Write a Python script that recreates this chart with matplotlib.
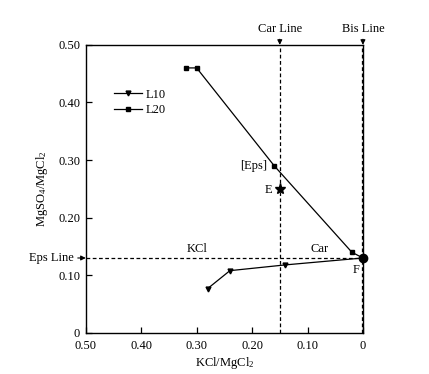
import numpy as np
import matplotlib.pyplot as plt

plt.rcParams['font.family'] = ['Liberation Serif', 'DejaVu Serif']
plt.rcParams['mathtext.fontset'] = 'custom'
plt.rcParams['mathtext.rm'] = 'Liberation Serif'
plt.rcParams['mathtext.it'] = 'Liberation Serif:italic'
plt.rcParams['font.size'] = 9

# data
l10_x = [0.28, 0.24, 0.14, 0.0]
l10_y = [0.077, 0.108, 0.118, 0.13]
l20_x = [0.32, 0.30, 0.16, 0.02, 0.0]
l20_y = [0.46, 0.46, 0.29, 0.14, 0.13]
point_e = (0.15, 0.25)
point_f = (0.0, 0.13)
car_line = 0.15
bis_line = 0.0
eps_line = 0.13

xticks = [0.5, 0.4, 0.3, 0.2, 0.1, 0.0]
xtick_labels = ['0.50', '0.40', '0.30', '0.20', '0.10', '0']
yticks = [0.0, 0.1, 0.2, 0.3, 0.4, 0.5]
ytick_labels = ['0', '0.10', '0.20', '0.30', '0.40', '0.50']

fig = plt.figure(figsize=(4.29, 3.74), dpi=100)
ax = fig.add_axes([0.200, 0.110, 0.646, 0.770])

ax.plot(l10_x, l10_y, 'k-', marker='v', ms=3.5, lw=0.9, label='L10')
ax.plot(l20_x, l20_y, 'k-', marker='s', ms=3.2, lw=0.9, label='L20')
ax.plot(*point_e, 'k*', ms=8)
ax.plot(*point_f, 'ko', ms=6, clip_on=False, zorder=5)

ax.axvline(car_line, color='k', ls='--', lw=0.9, dashes=(3, 2))
ax.axvline(bis_line + 0.002, color='k', ls='--', lw=0.9, dashes=(3, 2))
ax.axhline(eps_line, color='k', ls='--', lw=0.9, dashes=(3, 2))

ax.set_xlim(0.5, 0.0)
ax.set_ylim(0.0, 0.5)
ax.set_xticks(xticks)
ax.set_xticklabels(xtick_labels)
ax.set_yticks(yticks)
ax.set_yticklabels(ytick_labels)
ax.tick_params(direction='in', length=4, width=0.9, labelsize=9)
ax.tick_params(axis='x', pad=5)
ax.tick_params(axis='y', pad=4)
for s in ax.spines.values():
    s.set_linewidth(1.0)

ax.set_xlabel('KCl/MgCl$_2$', fontsize=9, labelpad=2)
ax.set_ylabel('MgSO$_4$/MgCl$_2$', fontsize=9, labelpad=6)

ax.text(0.172, 0.29, '[Eps]', ha='right', va='center', fontsize=9)
ax.text(0.164, 0.248, 'E', ha='right', va='center', fontsize=9)
ax.text(0.30, 0.145, 'KCl', ha='center', va='center', fontsize=9)
ax.text(0.078, 0.145, 'Car', ha='center', va='center', fontsize=9)
ax.text(0.012, 0.11, 'F', ha='center', va='center', fontsize=9)

arrow = dict(arrowstyle='-|>', color='k', lw=0.8, mutation_scale=7,
             shrinkA=1, shrinkB=0)
ax.annotate('Car Line', xy=(car_line, 0.5), xytext=(car_line, 0.517),
            ha='center', va='bottom', fontsize=9, arrowprops=arrow,
            annotation_clip=False)
ax.annotate('Bis Line', xy=(bis_line, 0.5), xytext=(bis_line, 0.517),
            ha='center', va='bottom', fontsize=9, arrowprops=arrow,
            annotation_clip=False)
ax.annotate('Eps Line', xy=(0.5, eps_line), xytext=(0.522, eps_line),
            ha='right', va='center', fontsize=9, arrowprops=arrow,
            annotation_clip=False)

ax.legend(loc='upper left', bbox_to_anchor=(0.085, 0.865), frameon=False,
          fontsize=9, handlelength=2.2, handletextpad=0.3, labelspacing=0.25,
          borderaxespad=0)

fig.savefig('out.png', dpi=100)
